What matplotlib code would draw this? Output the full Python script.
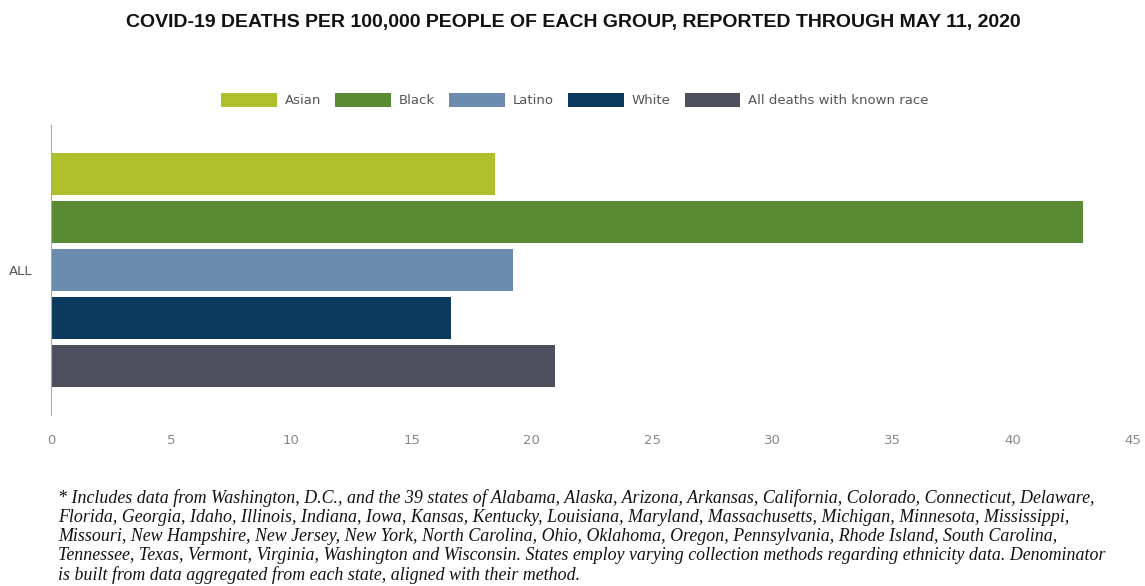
import numpy as np
import matplotlib.pyplot as plt

# data
groups = ['Asian', 'Black', 'Latino', 'White', 'All deaths with known race']
deaths = [18.45, 42.9, 19.2, 16.65, 20.95]
colors = ['#b0bf2c', '#5a8a33', '#6b8cae', '#0c3a5e', '#4d4e5e']
xticks = [0, 5, 10, 15, 20, 25, 30, 35, 40, 45]

footnote = ("* Includes data from Washington, D.C., and the 39 states of Alabama, Alaska, Arizona, Arkansas, California, Colorado, Connecticut, Delaware,\n"
            "Florida, Georgia, Idaho, Illinois, Indiana, Iowa, Kansas, Kentucky, Louisiana, Maryland, Massachusetts, Michigan, Minnesota, Mississippi,\n"
            "Missouri, New Hampshire, New Jersey, New York, North Carolina, Ohio, Oklahoma, Oregon, Pennsylvania, Rhode Island, South Carolina,\n"
            "Tennessee, Texas, Vermont, Virginia, Washington and Wisconsin. States employ varying collection methods regarding ethnicity data. Denominator\n"
            "is built from data aggregated from each state, aligned with their method.")

W, H = 1145, 586
fig = plt.figure(figsize=(W / 100, H / 100), dpi=100)
ax = fig.add_axes([51 / W, 1 - 415 / H, (1133 - 51) / W, 290 / H])

step = 0.1655
for i, (g, v, c) in enumerate(zip(groups, deaths, colors)):
    ax.barh((i - 2) * step, v, height=0.145, color=c, label=g)

ax.set_ylim(0.5, -0.5)
ax.set_xlim(0, 45)
ax.set_yticks([0])
ax.set_yticklabels(['ALL'])
ax.set_xticks(xticks)
ax.tick_params(axis='both', length=0, colors='#555555', labelsize=9.5)
ax.tick_params(axis='y', pad=13)
ax.tick_params(axis='x', pad=14, colors='#888888')
for s in ['top', 'right', 'bottom']:
    ax.spines[s].set_visible(False)
ax.spines['left'].set_color('#aaaaaa')
ax.spines['left'].set_linewidth(0.8)

fig.text(573 / W, 1 - 22 / H, 'COVID-19 DEATHS PER 100,000 PEOPLE OF EACH GROUP, REPORTED THROUGH MAY 11, 2020',
         ha='center', va='center', fontsize=14, fontweight='bold', family='Liberation Sans',
         color='#111111')

fig.legend(loc='center', bbox_to_anchor=(575 / W, 1 - 100 / H), ncol=5, frameon=False,
           fontsize=9.5, handlelength=4.2, handleheight=1.3, columnspacing=1.1, handletextpad=0.6,
           labelcolor='#555555')

fig.text(58 / W, 1 - 489 / H, footnote, ha='left', va='top', fontsize=12.9, style='italic',
         family='Liberation Serif', color='#111111', linespacing=1.15)

fig.savefig('out.png', dpi=100, facecolor='white')
